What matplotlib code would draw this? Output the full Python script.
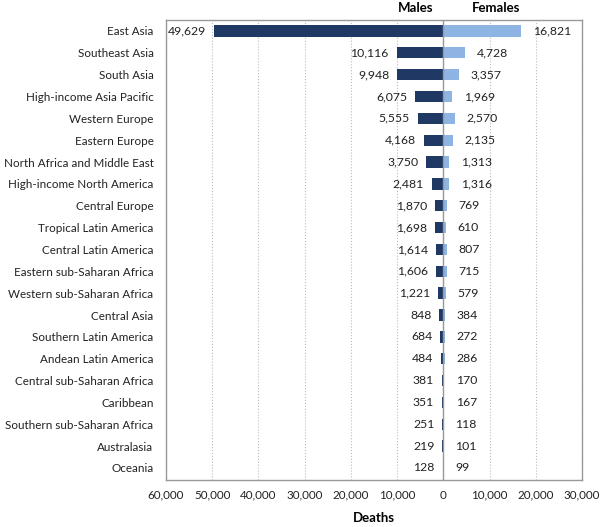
import numpy as np
import matplotlib.pyplot as plt
from matplotlib.ticker import FuncFormatter

# ---- data ----
regions = ["East Asia", "Southeast Asia", "South Asia", "High-income Asia Pacific",
           "Western Europe", "Eastern Europe", "North Africa and Middle East",
           "High-income North America", "Central Europe", "Tropical Latin America",
           "Central Latin America", "Eastern sub-Saharan Africa", "Western sub-Saharan Africa",
           "Central Asia", "Southern Latin America", "Andean Latin America",
           "Central sub-Saharan Africa", "Caribbean", "Southern sub-Saharan Africa",
           "Australasia", "Oceania"]
males = [49629, 10116, 9948, 6075, 5555, 4168, 3750, 2481, 1870, 1698, 1614,
         1606, 1221, 848, 684, 484, 381, 351, 251, 219, 128]
females = [16821, 4728, 3357, 1969, 2570, 2135, 1313, 1316, 769, 610, 807,
           715, 579, 384, 272, 286, 170, 167, 118, 101, 99]

plt.rcParams['font.family'] = ['Lato', 'DejaVu Sans']
male_col = '#1F3864'
female_col = '#8DB4E2'

fig = plt.figure(figsize=(6, 5.27), dpi=100)
ax = fig.add_axes([166 / 600, 47 / 527, 416 / 600, 460 / 527])

y = np.arange(len(regions))
h = 0.52
ax.barh(y, [-m for m in males], height=h, color=male_col, zorder=3)
ax.barh(y, females, height=h, color=female_col, zorder=3)

for yi, m, f in zip(y, males, females):
    ax.text(-m - 1700, yi, f"{m:,}", ha='right', va='center', fontsize=8.8, color='#222222')
    ax.text(f + 2500, yi, f"{f:,}", ha='left', va='center', fontsize=8.8, color='#222222')

ax.set_xlim(-60000, 30000)
ax.set_ylim(len(regions) - 0.45, -0.5)
ax.set_xticks(np.arange(-60000, 30001, 10000))
ax.xaxis.set_major_formatter(FuncFormatter(lambda v, p: f"{abs(int(v)):,}"))
ax.set_yticks(y)
ax.set_yticklabels(regions)
ax.tick_params(axis='both', length=0, colors='#222222')
ax.tick_params(axis='y', pad=9, labelsize=8.4)
ax.tick_params(axis='x', pad=7, labelsize=8.4)

ax.grid(axis='x', linestyle=':', color='#bbbbbb', linewidth=0.8, zorder=0)
ax.axvline(0, color='#999999', linewidth=1, zorder=4)
for s in ax.spines.values():
    s.set_color('#999999')
    s.set_linewidth(1)

ax.set_xlabel("Deaths", fontweight='bold', fontsize=9.5, labelpad=8)

tr = ax.get_xaxis_transform()
ax.text(-6000, 1.012, "Males", transform=tr, ha='center', va='bottom', fontweight='bold', fontsize=9.5)
ax.text(11500, 1.012, "Females", transform=tr, ha='center', va='bottom', fontweight='bold', fontsize=9.5)

fig.savefig("out.png", dpi=100)
